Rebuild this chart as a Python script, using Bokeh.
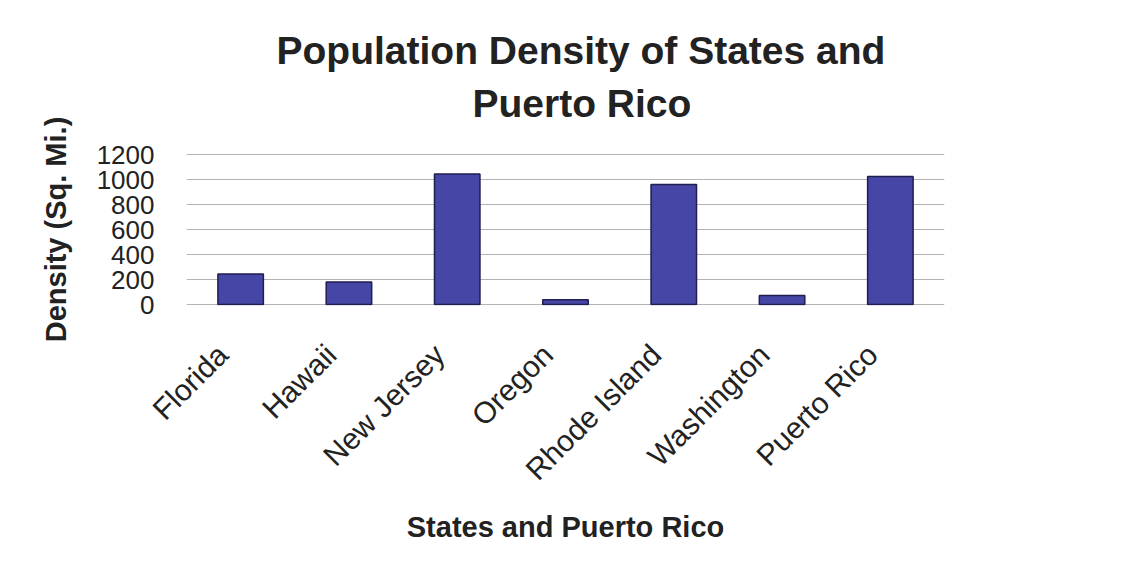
from math import pi

from bokeh.embed import file_html
from bokeh.models import ColumnDataSource, Range1d, FixedTicker, LinearAxis, Title
from bokeh.plotting import figure
from bokeh.resources import INLINE

# Population density per square mile
states = ["Florida", "Hawaii", "New Jersey", "Oregon", "Rhode Island", "Washington", "Puerto Rico"]
density = [245, 180, 1045, 38, 960, 72, 1025]
y_ticks = [0, 200, 400, 600, 800, 1000, 1200]

title_lines = ["Population Density of States and", "Puerto Rico"]
x_title = "States and Puerto Rico"
y_title = "Density (Sq. Mi.)"

FONT = "Liberation Sans"
TEXT = "#222222"

slot = list(range(len(states)))
source = ColumnDataSource(data=dict(slot=slot, state=states, density=density))

p = figure(
    x_range=Range1d(-0.5, len(states) - 0.5),
    y_range=Range1d(-8, 1208),
    width=1143,
    height=571,
    output_backend="svg",
    toolbar_location=None,
    x_axis_location=None,
    min_border_left=186,
    min_border_right=199,
    min_border_top=153,
    min_border_bottom=266,
)
p.outline_line_color = None
p.background_fill_color = "white"
p.border_fill_color = "white"

p.vbar(
    x="slot",
    top="density",
    width=0.42,
    source=source,
    fill_color="#4646a6",
    line_color="#1e1e50",
    line_width=1.5,
)

# value axis
p.yaxis.ticker = FixedTicker(ticks=y_ticks)
p.yaxis.axis_line_color = None
p.yaxis.major_tick_line_color = None
p.yaxis.minor_tick_line_color = None
p.yaxis.major_label_standoff = 26
p.yaxis.major_label_text_font = FONT
p.yaxis.major_label_text_font_size = "26px"
p.yaxis.major_label_text_color = TEXT
p.yaxis.axis_label = y_title
p.yaxis.axis_label_standoff = 22
p.yaxis.axis_label_text_font = FONT
p.yaxis.axis_label_text_font_style = "bold"
p.yaxis.axis_label_text_font_size = "29px"
p.yaxis.axis_label_text_color = TEXT

# category axis: slanted names end slightly left of each bar's centre
p.extra_x_ranges = {"names": Range1d(-0.5 + 0.166, len(states) - 0.5 + 0.166)}
name_axis = LinearAxis(
    x_range_name="names",
    ticker=FixedTicker(ticks=slot),
    major_label_overrides={i: s for i, s in zip(slot, states)},
    axis_label=x_title,
)
name_axis.axis_line_color = None
name_axis.major_tick_line_color = None
name_axis.minor_tick_line_color = None
name_axis.major_label_orientation = pi / 4
name_axis.major_label_standoff = 38
name_axis.major_label_text_font = FONT
name_axis.major_label_text_font_size = "30px"
name_axis.major_label_text_color = TEXT
name_axis.axis_label_standoff = 10
name_axis.axis_label_text_font = FONT
name_axis.axis_label_text_font_style = "bold"
name_axis.axis_label_text_font_size = "29px"
name_axis.axis_label_text_color = TEXT
p.add_layout(name_axis, "below")

p.xgrid.grid_line_color = None
p.ygrid.grid_line_color = "#b4b4b4"
p.ygrid.grid_line_width = 1

# two-line heading; later titles stack above earlier ones
for line, off, gap in [(title_lines[1], 286, 58), (title_lines[0], 90, -42)]:
    p.add_layout(Title(
        text=line, align="left", offset=off, standoff=gap,
        text_font=FONT, text_font_style="bold", text_font_size="39px", text_color=TEXT,
    ), "above")

open("out.html", "w").write(file_html(p, INLINE))
